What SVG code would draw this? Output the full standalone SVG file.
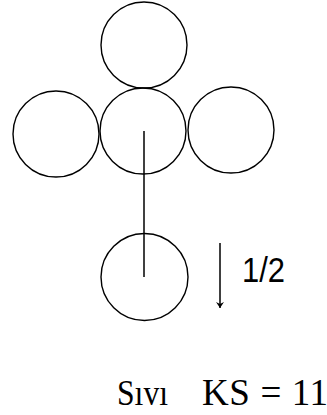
<svg xmlns="http://www.w3.org/2000/svg" width="327" height="415" viewBox="0 0 327 415">
<style>
.c{fill:none;stroke:#000;stroke-width:1.4}
.l{stroke:#000;stroke-width:1.5;fill:none}
.t{font-family:"Liberation Serif",serif;fill:#000}
.s{font-family:"Liberation Sans",sans-serif;fill:#000}
</style>
<defs>
<marker id="ah" markerWidth="8" markerHeight="8" refX="7" refY="4" orient="auto" markerUnits="userSpaceOnUse" viewBox="0 0 8 8">
<path d="M1,0 L7,4 L1,8 L3,4 Z" fill="#000"/>
</marker>
</defs>
<rect width="327" height="415" fill="#fff"/>
<g id="top"><circle class="c" cx="144" cy="45" r="43"/></g>
<g id="left"><circle class="c" cx="56" cy="134" r="43"/></g>
<g id="center"><circle class="c" cx="143" cy="131" r="43"/></g>
<g id="right"><circle class="c" cx="231" cy="130" r="43"/></g>
<g id="bottom"><circle class="c" cx="144.5" cy="277" r="43.5"/></g>
<g id="connectors">
<line class="l" x1="144" y1="131" x2="144" y2="277"/>
<line class="l" x1="220" y1="243" x2="220" y2="308" marker-end="url(#ah)"/>
</g>
<g id="labels">
<text class="s" x="242" y="282" font-size="35" textLength="43" lengthAdjust="spacingAndGlyphs">1/2</text>
<text class="t" x="117" y="405" font-size="36" textLength="51" lengthAdjust="spacingAndGlyphs">Sıvı</text>
<text class="t" x="202" y="405" font-size="37" textLength="126" xml:space="preserve">KS = 11</text>
</g>
</svg>
